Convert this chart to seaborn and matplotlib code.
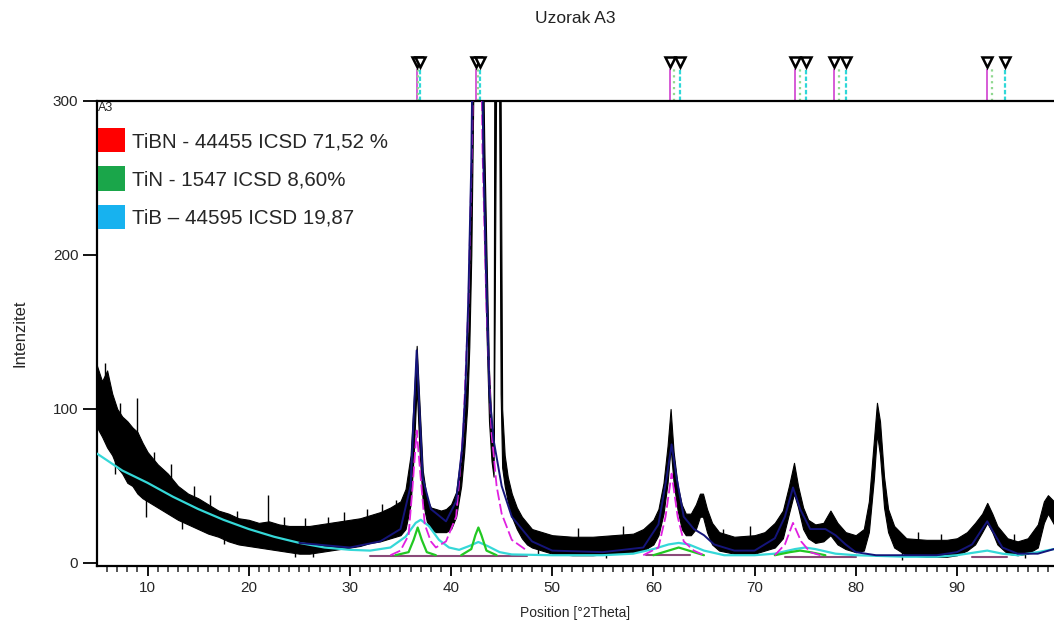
import numpy as np
import matplotlib
matplotlib.use("Agg")
import matplotlib.pyplot as plt
import seaborn as sns
from matplotlib.patches import Patch

# observed XRD pattern, read as a lower / upper band (noise envelope)
obs_x = [5.0, 5.5, 6.0, 6.5, 7.0, 7.5, 8.0, 8.5, 9.0, 9.5, 10, 11, 12, 13, 14, 15, 16, 17, 18, 19,
         20, 21, 22, 23, 24, 25, 26, 27, 28, 29, 30, 31, 32, 33, 34, 35, 35.5, 36.0, 36.3, 36.6,
         36.9, 37.2, 37.6, 38.0, 38.5, 39.0, 39.5, 40.0, 40.5, 41.0, 41.3, 41.6, 41.8, 42.0, 42.2,
         43.0, 43.15, 43.3, 43.5, 43.75, 44.0, 44.2, 44.3, 44.45, 44.75, 44.9, 45.05, 45.3, 45.6,
         46.0, 46.5, 47.0, 47.5, 48, 49, 50, 52, 54, 56, 58, 59, 60, 60.5, 61.0, 61.4, 61.7, 62.0,
         62.4, 62.8, 63.2, 63.7, 64.2, 64.6, 64.9, 65.3, 65.8, 66.5, 68, 70, 71, 72, 72.8, 73.4,
         73.9, 74.3, 74.8, 75.3, 76, 76.8, 77.5, 78.2, 79, 80, 80.8, 81.3, 81.8, 82.1, 82.4, 82.8,
         83.2, 83.8, 85, 87, 89, 90, 91, 91.8, 92.5, 93.0, 93.5, 94.0, 95, 96, 97, 98, 98.6, 99.0,
         99.6]
obs_lo = [88, 82, 75, 70, 62, 58, 52, 50, 45, 42, 40, 36, 32, 28, 25, 22, 19, 17, 14, 12,
          11, 10, 9, 8, 7, 6, 6, 7, 8, 9, 10, 11, 13, 14, 16, 18, 22, 38, 70, 115,
          70, 40, 27, 22, 20, 20, 20, 22, 30, 50, 72, 102, 140, 200, 305,
          305, 262, 205, 150, 92, 66, 56, 150, 305, 305, 110, 62, 50, 40,
          30, 22, 16, 12, 10, 8, 6, 5, 5, 6, 7, 8, 12, 18, 32, 52, 75, 52,
          34, 22, 18, 18, 22, 30, 30, 20, 12, 8, 6, 6, 8, 10, 16, 32,
          45, 36, 22, 16, 13, 14, 18, 12, 9, 7, 8, 20, 55, 84, 70, 36,
          20, 10, 5, 4, 4, 5, 8, 12, 20, 26, 20, 12, 6, 5, 6, 10, 26, 32,
          25]
obs_hi = [128, 118, 125, 110, 100, 95, 92, 88, 85, 78, 72, 64, 58, 50, 45, 42, 38, 34, 32, 29,
          28, 26, 27, 25, 24, 24, 24, 25, 26, 27, 28, 29, 31, 33, 36, 40, 48, 70, 105, 141,
          100, 60, 42, 36, 35, 34, 35, 38, 46, 72, 95, 125, 175, 260, 400,
          400, 330, 265, 200, 125, 90, 80, 400, 400, 400, 300, 100, 70, 56,
          45, 36, 30, 26, 22, 20, 18, 17, 17, 18, 19, 22, 28, 35, 52, 76, 100, 72,
          50, 38, 32, 32, 38, 45, 45, 35, 26, 20, 17, 18, 20, 26, 34, 50,
          65, 50, 36, 28, 25, 26, 34, 26, 20, 18, 22, 40, 80, 104, 92, 56,
          35, 24, 16, 15, 15, 16, 20, 26, 32, 39, 32, 24, 16, 14, 16, 25, 40, 44,
          40]

# isolated noise spikes, up and down (base, top)
spike_x = [5.8, 7.3, 8.95, 10.6, 12.3, 14.6, 16.2, 18.8, 21.9, 23.5, 25.6, 27.8, 29.4, 31.7,
           33.2, 34.6, 52.5, 57.0, 66.9, 69.5, 86.2, 88.4, 95.6,
           6.8, 9.8, 13.4, 17.6, 24.6, 26.4, 48.6, 55.3, 84.6, 96.7]
spike_base = [110, 90, 80, 60, 50, 40, 35, 27, 25, 22, 22, 24, 25, 27,
              30, 34, 16, 17, 17, 17, 14, 14, 14,
              58, 30, 22, 12, 4, 4, 5, 3, 2, 3]
spike_y = [130, 104, 107, 72, 64, 50, 44, 34, 44, 30, 29, 30, 33, 35,
           38, 41, 23, 24, 22, 24, 20, 19, 19,
           75, 45, 32, 20, 10, 10, 10, 8, 7, 8]

# total fit (dark blue)
fit_x = [25, 30, 33, 35, 36, 36.6, 37.2, 38, 39.5, 40.5, 41.1, 41.4, 41.7, 42.0, 42.6, 43.2,
         43.5, 43.8, 44.2, 45, 46, 48, 50, 55, 59, 60.5, 61.3, 61.8, 62.3, 63, 64, 65, 66, 68,
         70, 72, 73, 73.8, 74.5, 75.5, 77, 78, 79, 80, 82, 85, 88, 90, 91.5, 92.5, 93, 93.6,
         94.5, 96, 98, 99.6]
fit_y = [13, 10, 14, 22, 50, 138, 55, 35, 27, 40, 75, 110, 170, 260, 600, 260,
         180, 110, 80, 50, 30, 14, 8, 7, 10, 25, 55, 77, 55, 30, 22, 18, 12, 8,
         8, 16, 30, 49, 35, 22, 22, 18, 12, 7, 5, 5, 5, 7, 12, 22, 27, 20,
         10, 6, 6, 9]

# TiBN component (magenta)
tibn_x = [34, 35, 35.8, 36.2, 36.6, 37.0, 37.4, 38, 38.5, 39.5, 40.5, 41.2, 41.7, 42.1, 42.6,
          43.1, 43.5, 44, 44.5, 45, 46, 47.5, np.nan, 59, 60.5, 61.2, 61.8, 62.4, 63, 64, 65,
          np.nan, 72, 73, 73.8, 74.6, 75.5, 76.5]
tibn_y = [5, 8, 18, 50, 86, 55, 25, 14, 10, 14, 30, 85, 165, 280, 600,
          270, 165, 85, 50, 32, 15, 8, np.nan, 5, 10, 30, 58, 30, 14, 8, 5,
          np.nan, 5, 12, 26, 14, 7, 5]

# TiN component (green)
tin_x = [34.5, 35.8, 36.3, 36.7, 37.1, 37.6, 38.5, np.nan, 41.0, 42.0, 42.4, 42.7, 43.0, 43.5, 44.5,
         np.nan, 60, 61.5, 62.5, 63.5, 65, np.nan, 72, 73.5, 74.5, 75.5, 77]
tin_y = [5, 7, 15, 23, 15, 7, 5, np.nan, 5, 9, 18, 23, 18, 8, 5,
         np.nan, 5, 8, 10, 8, 5, np.nan, 5, 7, 8, 7, 5]

# TiB component + background (cyan)
tib_x = [5, 7.5, 10, 12.5, 15, 17.5, 20, 22.5, 25, 27.5, 30, 32, 34, 35.5, 36.5, 37.0, 37.8,
         38.8, 39.8, 40.8, 41.8, 42.7, 43.6, 44.8, 46, 50, 55, 58, 60, 61.5, 62.5, 63.5, 65,
         67, 70, 72, 74, 75, 76, 78, 80, 85, 88, 90, 92, 93, 94.5, 96, 98, 99.6]
tib_y = [71, 60, 52, 43, 35, 28, 22, 17, 13, 10, 8.5, 8, 10, 17, 26, 28, 24,
         15, 10, 8.5, 11, 13.6, 11, 7, 5.5, 5, 5, 6, 9, 12, 13, 12, 8,
         5, 5, 6, 9, 10, 9, 6, 5, 4, 4, 5, 7, 8, 6, 5, 7, 9]

# mauve base segments
base_x = [32, 47.5, np.nan, 59.3, 63.6, np.nan, 73, 80, np.nan, 91.5, 95]
base_y = [4.5, 4.5, np.nan, 5, 5, np.nan, 4, 4, np.nan, 4, 4]

# reference stick positions
tibn_ref = [36.6, 42.5, 61.6, 74.0, 77.9, 93.0]
tin_ref = [36.75, 42.7, 62.0, 74.5, 78.3, 93.5]
tib_ref = [36.9, 42.85, 62.6, 75.1, 79.0, 94.8]

legend_labels = ["TiBN - 44455 ICSD 71,52 %", "TiN - 1547 ICSD 8,60%", "TiB \u2013 44595 ICSD 19,87"]
legend_colors = ["#ff0000", "#1aa64a", "#17b2ef"]

sns.set_theme(style="ticks")
plt.rcParams['font.family'] = ['Liberation Sans', 'DejaVu Sans']

fig = plt.figure(figsize=(10.54, 6.22), dpi=100)
ax = fig.add_axes([97 / 1054, 56 / 622, 957 / 1054, 465 / 622])

ax.fill_between(obs_x, obs_lo, obs_hi, color="black", lw=0.8, zorder=2)
ax.vlines(spike_x, spike_base, spike_y, color="black", lw=1, zorder=2)

ax.plot(base_x, base_y, color="#8a4a78", lw=1.5, zorder=3)
ax.plot(tib_x, tib_y, color="#35d8d8", lw=1.6, zorder=4)
ax.plot(tin_x, tin_y, color="#22c822", lw=1.6, zorder=4)
ax.plot(tibn_x, tibn_y, color="#e020e0", lw=1.3, ls=(0, (6, 2)), zorder=4)
sns.lineplot(x=fit_x, y=fit_y, color="#15157a", lw=1.4, ax=ax, zorder=5)

# reference sticks above the plot
trans = ax.get_xaxis_transform()
ax.vlines(tibn_ref, 1.0, 1.068, transform=trans, clip_on=False, color="#d040d0", lw=1.2)
ax.vlines(tin_ref, 1.0, 1.068, transform=trans, clip_on=False, color="#90d890", lw=1.6, ls=":")
ax.vlines(tib_ref, 1.0, 1.068, transform=trans, clip_on=False, color="#30d8d8", lw=1.6, ls=(0, (2, 1)))
for ref in (tibn_ref, tib_ref):
    ax.plot(ref, [1.084] * len(ref), "v", transform=trans, clip_on=False,
            ms=7.5, mfc="white", mec="black", mew=1.8)

ax.set_xlim(5, 99.6)
ax.set_ylim(-2, 300)
ax.set_xticks([10, 20, 30, 40, 50, 60, 70, 80, 90])
ax.set_xticks(np.arange(6, 100, 1), minor=True)
ax.set_yticks([0, 100, 200, 300])
ax.tick_params(axis="both", which="major", labelsize=11, width=1.3, length=7, color="black")
ax.tick_params(axis="y", which="major", length=10)
ax.tick_params(axis="x", which="minor", width=1.1, length=4, bottom=True)
for side in ["left", "bottom", "top"]:
    ax.spines[side].set_visible(True)
    ax.spines[side].set_linewidth(1.6)
    ax.spines[side].set_color("black")
ax.spines["right"].set_visible(False)

ax.set_xlabel("Position [°2Theta]", fontsize=10, labelpad=8)
ax.set_ylabel("Intenzitet", fontsize=12, labelpad=18)
ax.set_title("Uzorak A3", fontsize=12.5, pad=56, color="#222222")

handles = [Patch(facecolor=c, edgecolor="none") for c in legend_colors]
leg = ax.legend(handles, legend_labels, loc="upper left", bbox_to_anchor=(0.0, 1.0),
                frameon=False, fontsize=14.8, title="A3", title_fontsize=9,
                handlelength=1.3, handleheight=1.45, handletextpad=0.35, labelspacing=0.68,
                borderaxespad=0.05, borderpad=0.0, alignment="left")

fig.savefig("out.png", dpi=100)
